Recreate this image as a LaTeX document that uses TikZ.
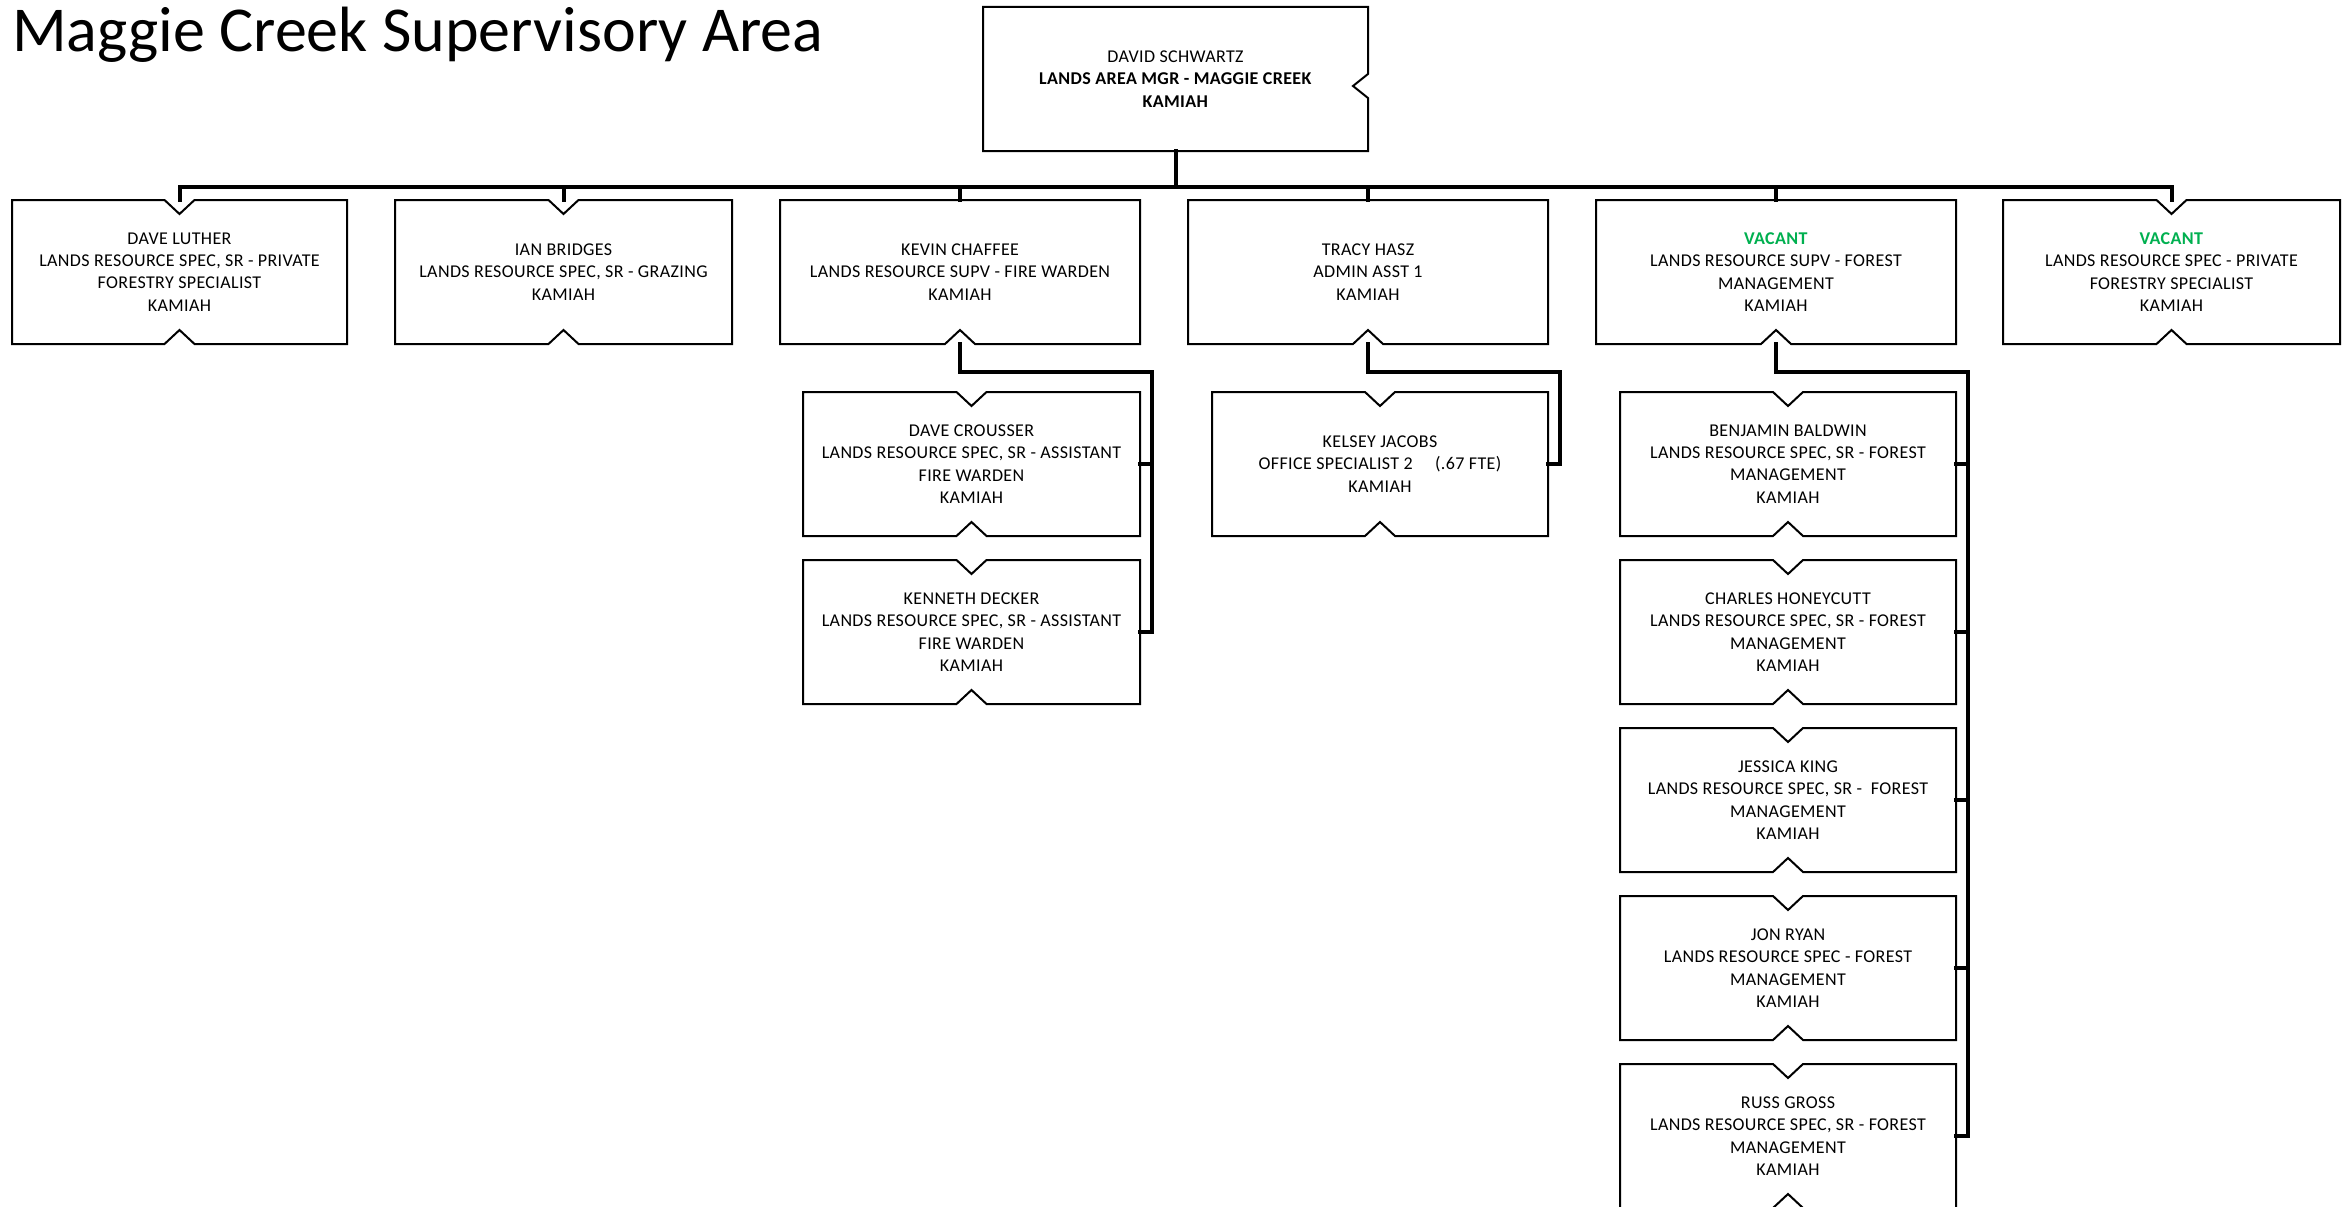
\documentclass[tikz,border=0pt]{standalone}
\usepackage{fontspec}
\setmainfont{Carlito}
\newfontfamily\boxfont{Carlito}[LetterSpace=2]
\usetikzlibrary{calc}
\definecolor{vacgreen}{HTML}{00B050}
\tikzset{
  orgbox/.style={draw=none, inner sep=0pt, outer sep=0pt, align=center,
    minimum height=144pt, font=\boxfont\fontsize{18}{22.4}\selectfont},
  boxline/.style={draw=black, line width=2pt, line join=miter},
  conn/.style={draw=black, line width=4pt, line join=miter, line cap=rect},
}
\newcommand\vac{\textcolor{vacgreen}{\textbf{VACANT}}}
\newcommand\outlineB[1]{\draw[boxline] (#1.north west) -- (#1.north east) -- (#1.south east)
  -- ([xshift=15pt]#1.south) -- ([yshift=14pt]#1.south) -- ([xshift=-15pt]#1.south) -- (#1.south west) -- cycle;}
\newcommand\outlineTB[1]{\draw[boxline] (#1.north west) -- ([xshift=-15pt]#1.north) -- ([yshift=-14pt]#1.north)
  -- ([xshift=15pt]#1.north) -- (#1.north east) -- (#1.south east)
  -- ([xshift=15pt]#1.south) -- ([yshift=14pt]#1.south) -- ([xshift=-15pt]#1.south) -- (#1.south west) -- cycle;}
\begin{document}
\begin{tikzpicture}[x=1pt, y=-1pt]
\clip (0,0) rectangle (2346,1207);
\fill[white] (0,0) rectangle (2346,1207);

\node[anchor=base west, inner sep=0pt, font=\fontsize{64}{76}\selectfont] (title) at (12,52) {Maggie Creek Supervisory Area};

% top
\node[orgbox, minimum width=385pt] (top) at (1175.5,79) {DAVID SCHWARTZ\\\textbf{LANDS AREA MGR - MAGGIE CREEK}\\\textbf{KAMIAH}};
\draw[boxline] (top.north west) -- (top.north east) -- ([yshift=5pt]top.east) -- ([xshift=-15pt,yshift=-7pt]top.east)
  -- ([yshift=-19pt]top.east) -- (top.south east) -- (top.south west) -- cycle;

% level 1
\node[orgbox, minimum width=335pt] (luther) at (179.5,272) {DAVE LUTHER\\LANDS RESOURCE SPEC, SR - PRIVATE\\FORESTRY SPECIALIST\\KAMIAH};
\node[orgbox, minimum width=337pt] (bridges) at (563.5,272) {IAN BRIDGES\\LANDS RESOURCE SPEC, SR - GRAZING\\KAMIAH};
\node[orgbox, minimum width=360pt] (chaffee) at (960,272) {KEVIN CHAFFEE\\LANDS RESOURCE SUPV - FIRE WARDEN\\KAMIAH};
\node[orgbox, minimum width=360pt] (hasz) at (1368,272) {TRACY HASZ\\ADMIN ASST 1\\KAMIAH};
\node[orgbox, minimum width=360pt] (vacant1) at (1776,272) {\vac\\LANDS RESOURCE SUPV - FOREST\\MANAGEMENT\\KAMIAH};
\node[orgbox, minimum width=337pt] (vacant2) at (2171.5,272) {\vac\\LANDS RESOURCE SPEC - PRIVATE\\FORESTRY SPECIALIST\\KAMIAH};

% level 2
\node[orgbox, minimum width=337pt] (crousser) at (971.5,464) {DAVE CROUSSER\\LANDS RESOURCE SPEC, SR - ASSISTANT\\FIRE WARDEN\\KAMIAH};
\node[orgbox, minimum width=337pt] (decker) at (971.5,632) {KENNETH DECKER\\LANDS RESOURCE SPEC, SR - ASSISTANT\\FIRE WARDEN\\KAMIAH};
\node[orgbox, minimum width=336pt] (jacobs) at (1380,464) {KELSEY JACOBS\\OFFICE SPECIALIST 2\quad\ (.67 FTE)\\KAMIAH};
\node[orgbox, minimum width=336pt] (baldwin) at (1788,464) {BENJAMIN BALDWIN\\LANDS RESOURCE SPEC, SR - FOREST\\MANAGEMENT\\KAMIAH};
\node[orgbox, minimum width=336pt] (honeycutt) at (1788,632) {CHARLES HONEYCUTT\\LANDS RESOURCE SPEC, SR - FOREST\\MANAGEMENT\\KAMIAH};
\node[orgbox, minimum width=336pt] (king) at (1788,800) {JESSICA KING\\LANDS RESOURCE SPEC, SR -\ \ FOREST\\MANAGEMENT\\KAMIAH};
\node[orgbox, minimum width=336pt] (ryan) at (1788,968) {JON RYAN\\LANDS RESOURCE SPEC - FOREST\\MANAGEMENT\\KAMIAH};
\node[orgbox, minimum width=336pt] (gross) at (1788,1136) {RUSS GROSS\\LANDS RESOURCE SPEC, SR - FOREST\\MANAGEMENT\\KAMIAH};

% outlines
\foreach \n in {luther,bridges,vacant2,crousser,decker,jacobs,baldwin,honeycutt,king,ryan,gross} {\outlineTB{\n}}
\foreach \n in {chaffee,hasz,vacant1} {\outlineB{\n}}

% connectors
\coordinate (bus) at (0,187);
\draw[conn] (top.south) -- (top.south |- bus);
\draw[conn] (luther.north |- bus) -- (vacant2.north |- bus);
\foreach \n in {luther,bridges,chaffee,hasz,vacant1,vacant2} {\draw[conn] (\n.north |- bus) -- (\n.north);}

\coordinate (chaffeeRail) at (1152,372);
\draw[conn] (chaffee.south) |- (chaffeeRail) |- (decker.east);
\draw[conn] (chaffeeRail |- crousser.east) -- (crousser.east);

\coordinate (haszRail) at (1560,372);
\draw[conn] (hasz.south) |- (haszRail) |- (jacobs.east);

\coordinate (vacRail) at (1968,372);
\draw[conn] (vacant1.south) |- (vacRail) |- (gross.east);
\foreach \n in {baldwin,honeycutt,king,ryan} {\draw[conn] (vacRail |- \n.east) -- (\n.east);}
\end{tikzpicture}
\end{document}
